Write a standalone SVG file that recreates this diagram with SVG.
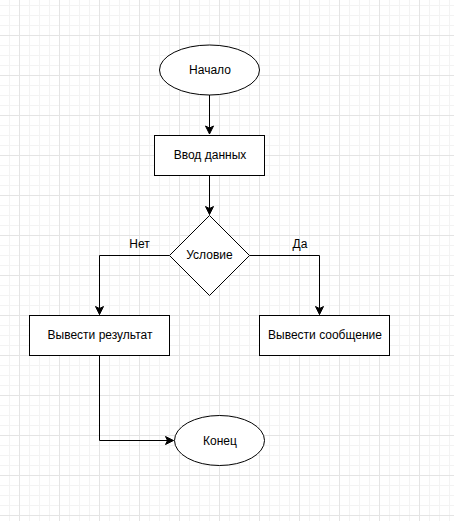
<svg xmlns="http://www.w3.org/2000/svg" width="454" height="521" viewBox="0 0 454 521">
<style>
.shape{fill:#ffffff;stroke:#000000;stroke-width:1}
.edge{fill:none;stroke:#000000;stroke-width:1}
.lbl{font-family:"Liberation Sans",Arial,sans-serif;font-size:12px;fill:#000000;text-anchor:middle}
</style>
<defs>
<pattern id="grid" patternUnits="userSpaceOnUse" x="19" y="35" width="40" height="40">
<path d="M10.5,0 V40 M20.5,0 V40 M30.5,0 V40 M0,10.5 H40 M0,20.5 H40 M0,30.5 H40" stroke="#f3f3f3" stroke-width="1" fill="none"/>
<path d="M0.5,0 V40 M0,0.5 H40" stroke="#e4e4e4" stroke-width="1" fill="none"/>
</pattern>
<marker id="arr" markerUnits="userSpaceOnUse" markerWidth="12" markerHeight="12" viewBox="-10 -6 12 12" refX="0" refY="0" orient="auto">
<path d="M-8,-4 L0,0 L-8,4 L-6,0 Z" fill="#000000" stroke="#000000" stroke-width="1"/>
</marker>
</defs>
<rect x="0" y="0" width="454" height="521" fill="#ffffff"/>
<rect x="0" y="0" width="454" height="521" fill="url(#grid)"/>
<g id="connectors">
<path class="edge" d="M209.5,95 V134" marker-end="url(#arr)"/>
<path class="edge" d="M209.5,175.5 V214.5" marker-end="url(#arr)"/>
<path class="edge" d="M169.5,255.5 H99.5 V314.5" marker-end="url(#arr)"/>
<path class="edge" d="M249.5,255.5 H319.5 V314.5" marker-end="url(#arr)"/>
<path class="edge" d="M99.5,355.5 V440.5 H173.5" marker-end="url(#arr)"/>
<text class="lbl" x="139.5" y="248">Нет</text>
<text class="lbl" x="300" y="248">Да</text>
</g>
<g id="start">
<ellipse class="shape" cx="209.5" cy="70" rx="50" ry="25"/>
<text class="lbl" x="210" y="74">Начало</text>
</g>
<g id="input">
<rect class="shape" x="154.5" y="135.5" width="110" height="40"/>
<text class="lbl" x="210" y="159">Ввод данных</text>
</g>
<g id="condition">
<polygon class="shape" points="209.5,215.5 249.5,255.5 209.5,295.5 169.5,255.5"/>
<text class="lbl" x="209.5" y="259">Условие</text>
</g>
<g id="result">
<rect class="shape" x="29.5" y="315.5" width="140" height="40"/>
<text class="lbl" x="100" y="339">Вывести результат</text>
</g>
<g id="message">
<rect class="shape" x="259.5" y="315.5" width="130" height="40"/>
<text class="lbl" x="325" y="339">Вывести сообщение</text>
</g>
<g id="end">
<ellipse class="shape" cx="219.5" cy="440.5" rx="45" ry="25"/>
<text class="lbl" x="220" y="444.5">Конец</text>
</g>
</svg>
